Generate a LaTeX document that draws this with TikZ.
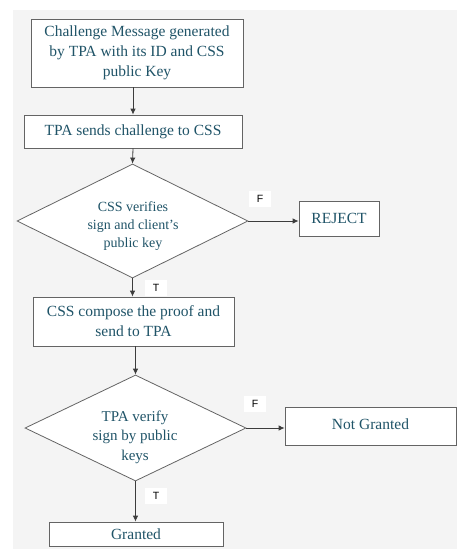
\documentclass[tikz,border=0pt]{standalone}
\usepackage{fontspec}
\setmainfont{Liberation Serif}
\newfontfamily\lblfont{Liberation Sans}
\usetikzlibrary{shapes.geometric,arrows.meta}
\definecolor{txt}{RGB}{32,84,104}
\definecolor{bord}{RGB}{100,100,100}
\definecolor{bg}{RGB}{244,244,244}
\definecolor{lne}{RGB}{60,60,60}
\tikzset{
  box/.style={draw=bord,line width=0.8pt,fill=white,rectangle,inner sep=0pt,align=center,text=txt,font=\fontsize{15.5}{20}\selectfont},
  dia/.style={draw=bord,line width=0.8pt,fill=white,diamond,inner sep=0pt},
  diatext/.style={align=center,text=txt,inner sep=0pt},
  arr/.style={-{Latex[length=6pt,width=5.5pt]},line width=0.8pt,lne},
  lbl/.style={fill=white,inner xsep=8pt,inner ysep=4pt,font=\lblfont\fontsize{10.5}{12}\selectfont}
}
\begin{document}
\begin{tikzpicture}[x=1pt,y=-1pt]
\fill[white] (0,0) rectangle (457,549);
\fill[bg] (13,10) rectangle (457,549);
\useasboundingbox (0,0) rectangle (457,549);

\node[box,minimum width=212pt,minimum height=68pt] (b1) at (137,53)
  {Challenge Message generated\\by TPA with its ID and CSS\\public Key};
\node[box,minimum width=218pt,minimum height=33pt] (b2) at (133,131.5)
  {TPA sends challenge to CSS};
\node[dia,minimum width=231pt,minimum height=114pt] (d1) at (132.5,221) {};
\node[diatext,font=\fontsize{14}{18}\selectfont] (d1t) at (133,226)
  {CSS verifies\\sign and client’s\\public key};
\node[box,minimum width=80pt,minimum height=35pt] (rej) at (339,218.5) {REJECT};
\node[box,minimum width=201pt,minimum height=49pt] (b3) at (133.5,321.5)
  {CSS compose the proof and\\send to TPA};
\node[dia,minimum width=221pt,minimum height=106pt] (d2) at (135.5,428) {};
\node[diatext,font=\fontsize{15}{19.5}\selectfont] (d2t) at (135,437)
  {TPA verify\\sign by public\\keys};
\node[box,minimum width=171pt,minimum height=38pt,text depth=0pt] (ng) at (370.5,426)
  {\raisebox{3pt}{Not Granted}};
\node[box,minimum width=174pt,minimum height=24pt] (gr) at (136,534) {Granted};

\node[lbl] (f1) at (260,199) {F};
\node[lbl] (t1) at (156,288) {T};
\node[lbl] (f2) at (255,404) {F};
\node[lbl] (t2) at (156,496) {T};

\draw[arr] (b1.south -| b2.north) -- (b2.north);
\draw[arr] (b2.south) -- (d1.north);
\draw[arr] (d1.east) -- (d1.east -| rej.west);
\draw[arr] (d1.south) -- (d1.south |- b3.north);
\draw[arr] (b3.south -| d2.north) -- (d2.north);
\draw[arr] (d2.east) -- (d2.east -| ng.west);
\draw[arr] (d2.south) -- (d2.south |- gr.north);
\end{tikzpicture}
\end{document}
